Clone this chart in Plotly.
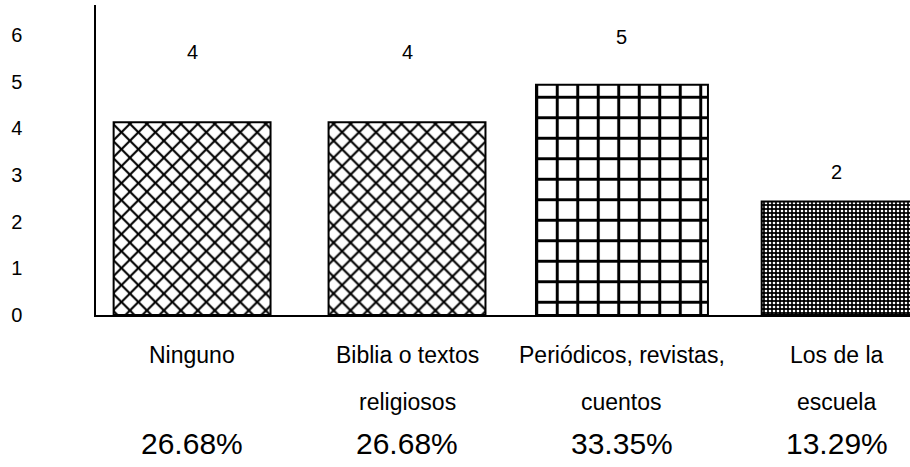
import plotly.graph_objects as go

categories = ["Ninguno", "Biblia o textos religiosos", "Periódicos, revistas, cuentos", "Los de la escuela"]
label_line1 = ["Ninguno", "Biblia o textos", "Periódicos, revistas,", "Los de la"]
label_line2 = ["", "religiosos", "cuentos", "escuela"]
bar_heights = [4.13, 4.13, 4.93, 2.43]
value_labels = [4, 4, 5, 2]
percentages = ["26.68%", "26.68%", "33.35%", "13.29%"]
y_ticks = [0, 1, 2, 3, 4, 5, 6]

FONT = "Liberation Sans, Arial, sans-serif"

fig = go.Figure()
fig.add_trace(go.Bar(
    x=categories,
    y=bar_heights,
    width=[0.73, 0.73, 0.8, 0.7],
    marker=dict(
        color="white",
        line=dict(color="black", width=2),
        pattern=dict(
            shape=["x", "x", "+", "."],
            size=[12, 12, 20.5, 4],
            solidity=[0.32, 0.32, 0.27, 0.35],
            fgcolor=["black", "black", "black", "white"],
            bgcolor=["white", "white", "white", "black"],
            fillmode="replace",
        ),
    ),
    hoverinfo="skip",
))

offsets = [70, 70, 48, 30]
annotations = []
for i, c in enumerate(categories):
    annotations.append(dict(x=c, y=bar_heights[i], xref="x", yref="y", text=str(value_labels[i]),
                            showarrow=False, yshift=offsets[i], yanchor="middle",
                            font=dict(family=FONT, size=20, color="black")))
    annotations.append(dict(x=c, y=0, xref="x", yref="paper", text=label_line1[i],
                            showarrow=False, yshift=-40, yanchor="middle",
                            font=dict(family=FONT, size=23, color="black")))
    if label_line2[i]:
        annotations.append(dict(x=c, y=0, xref="x", yref="paper", text=label_line2[i],
                                showarrow=False, yshift=-87, yanchor="middle",
                                font=dict(family=FONT, size=23, color="black")))
    annotations.append(dict(x=c, y=0, xref="x", yref="paper", text=percentages[i],
                            showarrow=False, yshift=-128, yanchor="middle",
                            font=dict(family=FONT, size=30, color="black")))

fig.update_layout(
    width=910, height=467,
    margin=dict(l=96, r=0, t=5, b=152, autoexpand=False),
    paper_bgcolor="white", plot_bgcolor="white",
    showlegend=False,
    annotations=annotations,
    xaxis=dict(
        range=[-0.447, 3.34],
        showticklabels=False, ticks="", automargin=False,
        showline=True, linecolor="black", linewidth=2,
        showgrid=False, zeroline=False,
    ),
    yaxis=dict(
        range=[0, 6.64], automargin=False,
        tickvals=y_ticks, ticktext=[str(t) for t in y_ticks],
        tickfont=dict(family=FONT, size=20, color="black"),
        ticklabelstandoff=68,
        showline=True, linecolor="black", linewidth=1.5,
        showgrid=False, zeroline=False, ticks="",
    ),
)

fig.write_html(
    "out.html",
    config={"displayModeBar": False},
    post_script="document.body.style.margin='0';document.body.style.overflow='hidden';",
)
